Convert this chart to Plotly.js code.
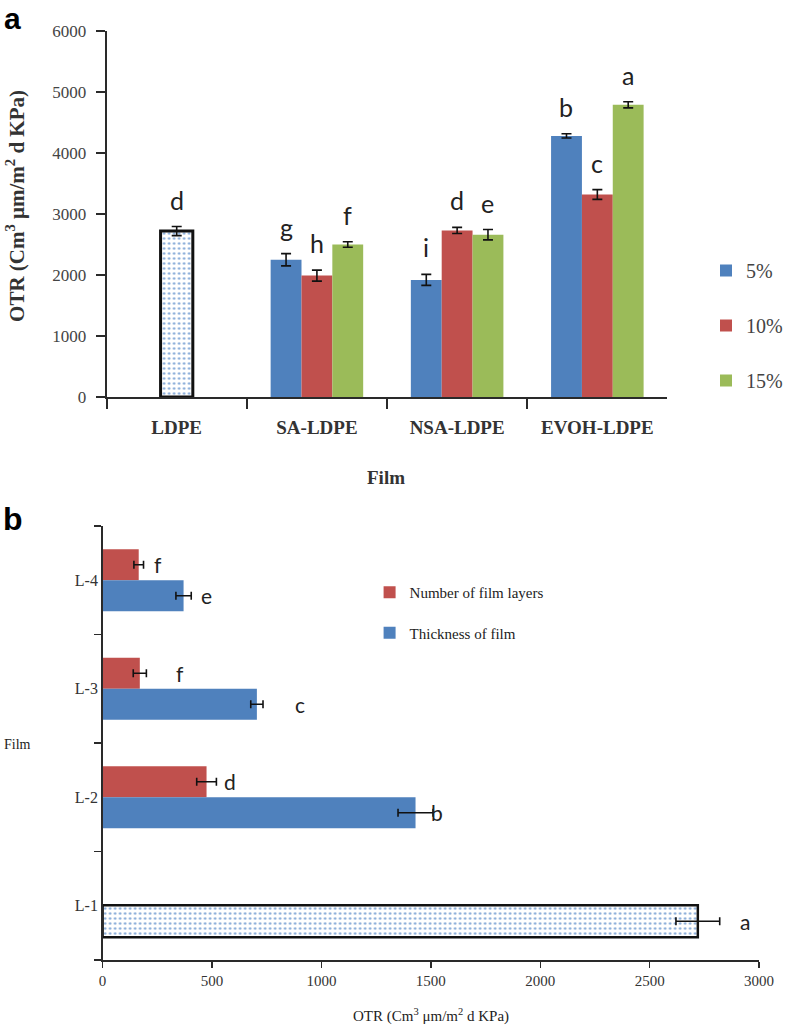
<!DOCTYPE html>
<html>
<head>
<meta charset="utf-8">
<script src="https://cdn.plot.ly/plotly-3.0.1.min.js"></script>
<style>html,body{margin:0;padding:0;background:#fff;}#chart{width:788px;height:1028px;}</style>
</head>
<body>
<div id="chart"></div>
<script>
// ---------- Panel a data ----------
const filmsA = ['LDPE', 'SA-LDPE', 'NSA-LDPE', 'EVOH-LDPE'];
const seriesA = ['5%', '10%', '15%'];
const otr5 = [null, 2250, 1920, 4280];
const otr10 = [null, 1990, 2730, 3320];
const otr15 = [null, 2500, 2660, 4790];
const err5 = [null, 100, 90, 35];
const err10 = [null, 90, 50, 80];
const err15 = [null, 45, 85, 50];
const ldpeValue = [2720];
const ldpeErr = [75];
const lettersA5 = ['', 'g', 'i', 'b'];
const lettersA10 = ['', 'h', 'd', 'c'];
const lettersA15 = ['', 'f', 'e', 'a'];
const ldpeLetter = ['d'];

// ---------- Panel b data ----------
const filmsB = ['L-1', 'L-2', 'L-3', 'L-4'];
const seriesB = ['Number of film layers', 'Thickness of film'];
const layersOTR = [null, 475, 170, 165];
const layersErr = [null, 45, 30, 22];
const thickOTR = [null, 1430, 705, 370];
const thickErr = [null, 80, 28, 35];
const l1Value = [2720];
const l1Err = [100];
const lettersLayers = ['', 'd', 'f', 'f'];
const lettersThick = ['', 'b', 'c', 'e'];
const l1Letter = ['a'];

// ---------- styles ----------
const BLUE = '#4F81BD', RED = '#C0504D', GREEN = '#9BBB59';
const SERIF = 'Liberation Serif, Times New Roman, serif';
const SANS = 'Lato, Open Sans, sans-serif';
const AX = '#2a2a2a';
const W = 788, H = 1028;
const px = v => v / W, py = v => 1 - v / H;

const wA = 0.22;        // bar width (category units), panel a
const wB = 0.286;       // bar width, panel b

function errY(arr) { return {type: 'data', array: arr, visible: true, color: '#111', thickness: 1.6, width: 5}; }
function errX(arr) { return {type: 'data', array: arr, visible: true, color: '#111', thickness: 1.6, width: 4}; }

const traces = [];
[[otr5, err5, BLUE, -1.5 * wA], [otr10, err10, RED, -0.5 * wA], [otr15, err15, GREEN, 0.5 * wA]].forEach((s, i) => {
  traces.push({
    type: 'bar', x: filmsA, y: s[0], name: seriesA[i], xaxis: 'x', yaxis: 'y',
    offset: s[3], width: wA, marker: {color: s[2], line: {width: 0}},
    error_y: errY(s[1]), legend: 'legend', legendgroup: 'g' + i, hoverinfo: 'x+y'
  });
});
traces.push({
  type: 'bar', x: [filmsA[0]], y: ldpeValue, name: 'LDPE', xaxis: 'x', yaxis: 'y', showlegend: false,
  offset: -0.5 * wA - 0.005, width: wA + 0.01,
  marker: {color: '#ffffff', line: {width: 3, color: '#111'},
           pattern: {shape: '.', fgcolor: '#7fa6d6', bgcolor: '#ffffff', size: 5, solidity: 0.18}},
  error_y: errY(ldpeErr)
});

// panel b traces
traces.push({
  type: 'bar', orientation: 'h', y: filmsB, x: layersOTR, name: seriesB[0], xaxis: 'x2', yaxis: 'y2',
  offset: 0, width: wB, marker: {color: RED}, error_x: errX(layersErr), legend: 'legend2', legendgroup: 'b0'
});
traces.push({
  type: 'bar', orientation: 'h', y: filmsB, x: thickOTR, name: seriesB[1], xaxis: 'x2', yaxis: 'y2',
  offset: -wB, width: wB, marker: {color: BLUE}, error_x: errX(thickErr), legend: 'legend2', legendgroup: 'b1'
});
traces.push({
  type: 'bar', orientation: 'h', y: [filmsB[0]], x: l1Value, name: 'L-1', xaxis: 'x2', yaxis: 'y2', showlegend: false,
  offset: -wB - 0.005, width: wB + 0.01,
  marker: {color: '#ffffff', line: {width: 2.5, color: '#111'},
           pattern: {shape: '.', fgcolor: '#7fa6d6', bgcolor: '#ffffff', size: 5, solidity: 0.18}},
  error_x: errX(l1Err)
});

// ---------- letter annotations ----------
const ann = [];
function letterA(idx, off, val, err, txt) {
  if (!txt) return;
  ann.push({xref: 'x', yref: 'y', x: idx + off, y: val + err, text: txt, showarrow: false,
            xanchor: 'center', yanchor: 'bottom', yshift: 10, font: {family: SANS, size: 25, color: '#222'}});
}
filmsA.forEach((f, i) => {
  letterA(i, -wA, otr5[i], err5[i], lettersA5[i]);
  letterA(i, 0, otr10[i], err10[i], lettersA10[i]);
  letterA(i, wA, otr15[i], err15[i], lettersA15[i]);
});
letterA(0, 0, ldpeValue[0], ldpeErr[0], ldpeLetter[0]);

const gapB = {layers: [0, 6, 28, 8], thick: [0, -4, 30, 8], l1: 18};
function letterB(idx, off, val, err, txt, shift) {
  if (!txt) return;
  ann.push({xref: 'x2', yref: 'y2', x: val + err, y: idx + off, text: txt, showarrow: false,
            xanchor: 'left', yanchor: 'middle', xshift: shift, font: {family: SANS, size: 21, color: '#222'}});
}
filmsB.forEach((f, i) => {
  letterB(i, wB / 2, layersOTR[i], layersErr[i], lettersLayers[i], gapB.layers[i]);
  letterB(i, -wB / 2, thickOTR[i], thickErr[i], lettersThick[i], gapB.thick[i]);
});
letterB(0, -wB / 2, l1Value[0], l1Err[0], l1Letter[0], gapB.l1);

// titles / panel labels
function paperText(x, y, text, font, extra) {
  ann.push(Object.assign({xref: 'paper', yref: 'paper', x: px(x), y: py(y), xanchor: 'center', yanchor: 'middle',
                          text: text, showarrow: false, font: font}, extra || {}));
}
paperText(13, 18, '<b>a</b>', {family: 'Liberation Sans, Arial, sans-serif', size: 30, color: '#000'});
paperText(13, 519, '<b>b</b>', {family: 'Liberation Sans, Arial, sans-serif', size: 32, color: '#000'});
paperText(16, 206, '<b>OTR (Cm<sup>3</sup> μm/m<sup>2</sup> d KPa)</b>', {family: SERIF, size: 21, color: '#333'}, {textangle: -90});
paperText(387, 477, '<b>Film</b>', {family: SERIF, size: 19, color: '#333'});
paperText(18, 744, 'Film', {family: SERIF, size: 14, color: '#222'});
paperText(433, 1015, 'OTR (Cm<sup>3</sup> μm/m<sup>2</sup> d KPa)', {family: SERIF, size: 15, color: '#222'});

const layout = {
  width: W, height: H, margin: {l: 0, r: 0, t: 0, b: 0}, paper_bgcolor: '#fff', plot_bgcolor: '#fff',
  barmode: 'overlay', showlegend: true,
  xaxis: {domain: [px(107), px(670)], anchor: 'y', type: 'category', categoryorder: 'array', categoryarray: filmsA,
          range: [-0.5, 3.5], showline: true, linecolor: AX, linewidth: 2, ticks: 'outside', tickson: 'boundaries',
          ticklen: 10, tickwidth: 2, tickcolor: AX, showgrid: false, zeroline: false,
          tickfont: {family: SERIF, size: 19, color: '#333', weight: 'bold'}, ticklabelstandoff: 12},
  yaxis: {domain: [py(397), py(31)], anchor: 'x', range: [0, 6000], dtick: 1000, showline: true, linecolor: AX, linewidth: 2,
          ticks: 'outside', ticklen: 9, tickwidth: 2, tickcolor: AX, showgrid: false, zeroline: false,
          tickfont: {family: SERIF, size: 17, color: '#444'}, ticklabelstandoff: 6},
  xaxis2: {domain: [px(103), px(762)], anchor: 'y2', range: [0, 3000], dtick: 500, showline: true, linecolor: AX, linewidth: 1.5,
           ticks: 'outside', ticklen: 6, tickwidth: 1.5, tickcolor: AX, showgrid: false, zeroline: false,
           tickfont: {family: SERIF, size: 15, color: '#333'}},
  yaxis2: {domain: [py(960), py(526)], anchor: 'x2', type: 'category', categoryorder: 'array', categoryarray: filmsB,
           range: [-0.5, 3.5], showline: true, linecolor: AX, linewidth: 1.5, ticks: 'outside', tickson: 'boundaries',
           ticklen: 7, tickwidth: 1.5, tickcolor: AX, showgrid: false, zeroline: false,
           tickfont: {family: SERIF, size: 16, color: '#333'}},
  legend: {x: px(709), y: py(251), xanchor: 'left', yanchor: 'top', traceorder: 'grouped', tracegroupgap: 26,
           font: {family: SERIF, size: 20, color: '#444'}, bgcolor: 'rgba(0,0,0,0)'},
  legend2: {x: px(371), y: py(576), xanchor: 'left', yanchor: 'top', traceorder: 'grouped', tracegroupgap: 18,
            font: {family: SERIF, size: 15, color: '#222'}, bgcolor: 'rgba(0,0,0,0)'},
  annotations: ann
};

Plotly.newPlot('chart', traces, layout, {staticPlot: true});
</script>
</body>
</html>
